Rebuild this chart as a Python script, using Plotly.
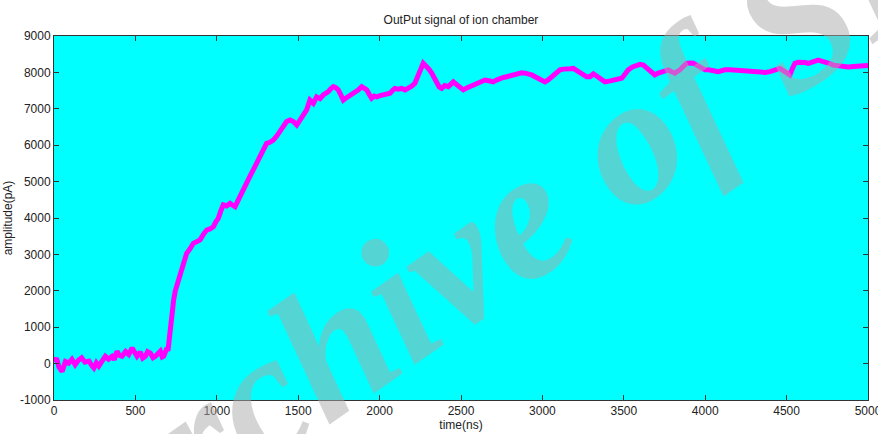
import plotly.graph_objects as go

title_text = "OutPut signal of ion chamber"
x_label = "time(ns)"
y_label = "amplitude(pA)"
watermark = "Archive of SID"

time_ns = [0, 15, 30, 50, 70, 90, 110, 130, 150, 170, 190, 215, 230, 245, 260, 275, 295, 315, 335, 356,
           370, 387, 400, 418, 440, 459, 480, 495, 510, 530, 545, 561, 575, 592, 608, 623, 640, 653, 665, 674,
           685, 694, 700, 708, 716, 725, 735, 745, 753, 764, 774, 790, 802, 815, 835, 856, 876, 897, 918, 938,
           958, 979, 995, 1009, 1025, 1040, 1060, 1081, 1097, 1112, 1127, 1142, 1163, 1184, 1204, 1224, 1245, 1265, 1285, 1306,
           1326, 1347, 1368, 1388, 1409, 1429, 1450, 1470, 1491, 1511, 1531, 1552, 1572, 1593, 1613, 1634, 1654, 1670, 1685, 1700,
           1716, 1731, 1746, 1762, 1777, 1792, 1808, 1829, 1849, 1870, 1890, 1905, 1921, 1936, 1951, 1967, 1982, 2003, 2023, 2044,
           2064, 2079, 2094, 2115, 2135, 2156, 2176, 2197, 2217, 2233, 2248, 2258, 2268, 2279, 2289, 2305, 2320, 2335, 2350, 2366,
           2381, 2400, 2422, 2437, 2453, 2483, 2514, 2535, 2555, 2576, 2596, 2622, 2647, 2672, 2698, 2718, 2739, 2760, 2780, 2795,
           2811, 2831, 2852, 2872, 2893, 2913, 2934, 2955, 2975, 2995, 3016, 3037, 3057, 3083, 3108, 3129, 3149, 3170, 3190, 3210,
           3231, 3252, 3272, 3292, 3313, 3333, 3359, 3384, 3410, 3435, 3461, 3487, 3507, 3527, 3553, 3579, 3600, 3620, 3635, 3650,
           3670, 3691, 3711, 3732, 3752, 3773, 3794, 3814, 3830, 3845, 3866, 3886, 3906, 3927, 3948, 3968, 3984, 3999, 4020, 4040,
           4060, 4080, 4100, 4121, 4152, 4182, 4213, 4244, 4275, 4305, 4336, 4367, 4398, 4428, 4459, 4480, 4500, 4520, 4535, 4551,
           4572, 4592, 4613, 4633, 4664, 4694, 4715, 4735, 4761, 4787, 4818, 4848, 4879, 4910, 4950, 4992, 5000]

amplitude_pA = [50, 150, -90, -220, 60, 15, 120, -30, 90, 160, 40, 70, -40, -120, 20, -70, 70, 200, 120, 200,
                110, 340, 230, 200, 330, 250, 430, 280, 200, 320, 150, 200, 330, 290, 160, 200, 300, 340, 180, 200,
                330, 430, 350, 740, 1000, 1290, 1750, 2000, 2113, 2350, 2480, 2700, 2850, 3030, 3150, 3305, 3350, 3400, 3550, 3670,
                3700, 3760, 3900, 3990, 4200, 4360, 4330, 4400, 4350, 4310, 4450, 4590, 4800, 5040, 5150, 5320, 5500, 5680, 5900, 6050,
                6080, 6140, 6250, 6370, 6500, 6650, 6690, 6650, 6555, 6690, 6870, 6970, 7240, 7150, 7330, 7280, 7380, 7420, 7470, 7550,
                7610, 7580, 7520, 7380, 7240, 7290, 7330, 7380, 7430, 7520, 7610, 7580, 7520, 7400, 7290, 7350, 7330, 7360, 7380, 7400,
                7430, 7500, 7560, 7540, 7560, 7520, 7560, 7620, 7700, 7850, 8020, 8150, 8250, 8200, 8160, 8080, 7980, 7840, 7700, 7600,
                7560, 7640, 7610, 7700, 7740, 7630, 7520, 7570, 7610, 7650, 7700, 7750, 7790, 7770, 7740, 7790, 7840, 7860, 7880, 7900,
                7930, 7950, 7980, 7990, 7980, 7960, 7930, 7880, 7840, 7790, 7740, 7800, 7880, 7980, 8070, 8090, 8110, 8100, 8110, 8050,
                7980, 7930, 7880, 7880, 7960, 7900, 7800, 7740, 7760, 7790, 7810, 7840, 7950, 8070, 8150, 8200, 8220, 8200, 8140, 8070,
                8000, 7930, 7980, 8020, 8050, 8070, 8020, 7980, 8030, 8070, 8170, 8250, 8260, 8250, 8200, 8160, 8110, 8070, 8070, 8070,
                8040, 8020, 8050, 8070, 8070, 8060, 8070, 8040, 8020, 8030, 8020, 8000, 8020, 8070, 8110, 8050, 7980, 7930, 8100, 8250,
                8280, 8290, 8270, 8250, 8300, 8340, 8310, 8290, 8250, 8200, 8180, 8160, 8150, 8160, 8180, 8200, 8190]

x_ticks = [0, 500, 1000, 1500, 2000, 2500, 3000, 3500, 4000, 4500, 5000]
y_ticks = [-1000, 0, 1000, 2000, 3000, 4000, 5000, 6000, 7000, 8000, 9000]

font_family = "Liberation Sans Narrow, Liberation Sans, Arial, sans-serif"

fig = go.Figure()
fig.add_trace(go.Scatter(
    x=time_ns, y=amplitude_pA, mode="lines",
    line=dict(color="#FF00FF", width=5),
    showlegend=False,
))

axis_common = dict(
    showgrid=False, zeroline=False, showline=True, linecolor="#333333", linewidth=1,
    mirror="allticks", ticks="inside", ticklen=5, tickcolor="#333333", automargin=False,
    ticklabeloverflow="allow",
    tickfont=dict(family=font_family, size=12, color="#222222"),
)

fig.update_layout(
    width=878, height=434,
    margin=dict(l=54, r=10, t=36, b=34),
    paper_bgcolor="white", plot_bgcolor="#00FFFF",
    title=dict(text=title_text, xref="paper", x=0.5, xanchor="center", y=0.955, yanchor="middle",
               font=dict(family=font_family, size=12, color="#222222")),
    xaxis=dict(range=[0, 5000], tickvals=x_ticks, ticktext=[str(v) for v in x_ticks],
               title=dict(text=x_label, standoff=2, font=dict(family=font_family, size=12, color="#222222")),
               **axis_common),
    yaxis=dict(range=[-1000, 9000], tickvals=y_ticks, ticktext=[str(v) for v in y_ticks],
               title=dict(text=y_label, standoff=4, font=dict(family=font_family, size=12, color="#222222")),
               **axis_common),
    annotations=[dict(
        text="<b><i>" + watermark + "</i></b>", xref="paper", yref="paper", x=0.585, y=0.53,
        showarrow=False, textangle=-35,
        font=dict(family="Liberation Serif, Times New Roman, serif", size=185, color="rgba(170,170,170,0.5)"),
    )],
)

fig.write_html("out.html", config={"displayModeBar": False},
               post_script="document.body.style.margin='0';document.body.style.overflow='hidden';")
